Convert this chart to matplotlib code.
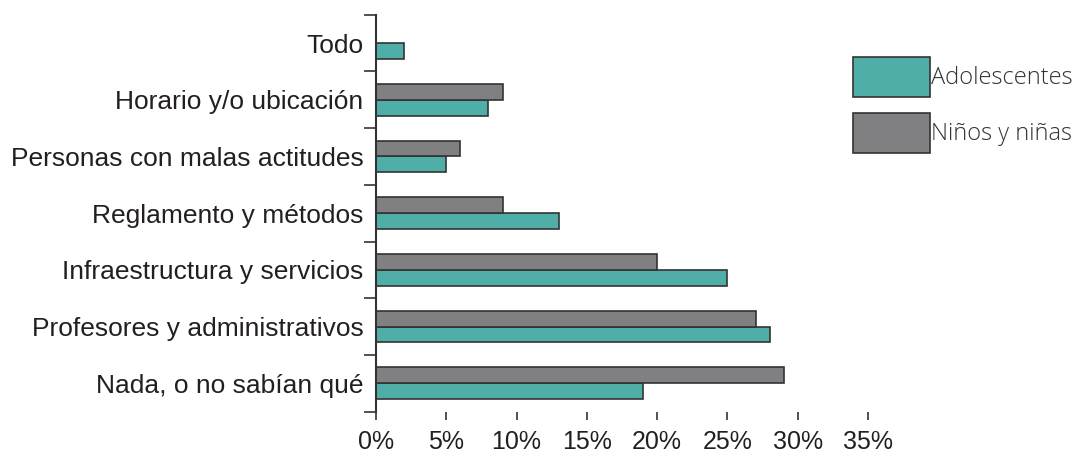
import matplotlib
matplotlib.use('Agg')
import matplotlib.pyplot as plt
import numpy as np

# data (bottom to top)
categories = ['Nada, o no sabían qué', 'Profesores y administrativos',
              'Infraestructura y servicios', 'Reglamento y métodos',
              'Personas con malas actitudes', 'Horario y/o ubicación', 'Todo']
adolescentes = [19, 28, 25, 13, 5, 8, 2]
ninos = [29, 27, 20, 9, 6, 9, None]
x_ticks = [0, 5, 10, 15, 20, 25, 30, 35]

TEAL = '#4faea8'
GRAY = '#808083'
EDGE = '#333333'

fig = plt.figure(figsize=(10.84, 4.55), dpi=100)
ax = fig.add_axes([0.3469, 0.0952, 0.8007 - 0.3469, 0.9677 - 0.0952])

y = np.arange(len(categories))
h = 0.28

ny = [yy for yy, v in zip(y, ninos) if v is not None]
nv = [v for v in ninos if v is not None]
b_ado = ax.barh(y - h / 2, adolescentes, height=h, color=TEAL,
                edgecolor=EDGE, linewidth=1.2, label='Adolescentes')
b_nin = ax.barh(np.array(ny) + h / 2, nv, height=h, color=GRAY,
                edgecolor=EDGE, linewidth=1.2, label='Niños y niñas')

ax.set_xlim(0, 35)
ax.set_ylim(-0.5, len(categories) - 0.5)

for s in ['top', 'right', 'bottom']:
    ax.spines[s].set_visible(False)
ax.spines['left'].set_color(EDGE)
ax.spines['left'].set_linewidth(1.5)

ax.set_yticks(y)
ax.set_yticklabels(categories, fontsize=19, family='Liberation Sans', color='#231f20')
ax.set_yticks(np.arange(-0.5, len(categories)), minor=True)
ax.tick_params(axis='y', which='major', length=0, pad=9)
ax.tick_params(axis='y', which='minor', length=8.5, width=1.2, color=EDGE, direction='out')

ax.set_xticks(x_ticks)
ax.set_xticklabels([f'{t}%' for t in x_ticks], fontsize=18, family='Liberation Sans', color='#231f20')
ax.tick_params(axis='x', length=6, width=1.2, color=EDGE, pad=7)

leg = fig.legend(handles=[b_ado, b_nin], loc='upper left',
                 bbox_to_anchor=(853 / 1084, 1 - 57 / 455),
                 frameon=False, borderpad=0, borderaxespad=0,
                 handlelength=3.26, handleheight=2.23, handletextpad=0.05,
                 labelspacing=0.68,
                 prop={'family': ['Open Sans', 'Lato', 'DejaVu Sans'],
                       'weight': 'light', 'size': 17})
for t in leg.get_texts():
    t.set_color('#333333')

fig.savefig('out.png', dpi=100)
